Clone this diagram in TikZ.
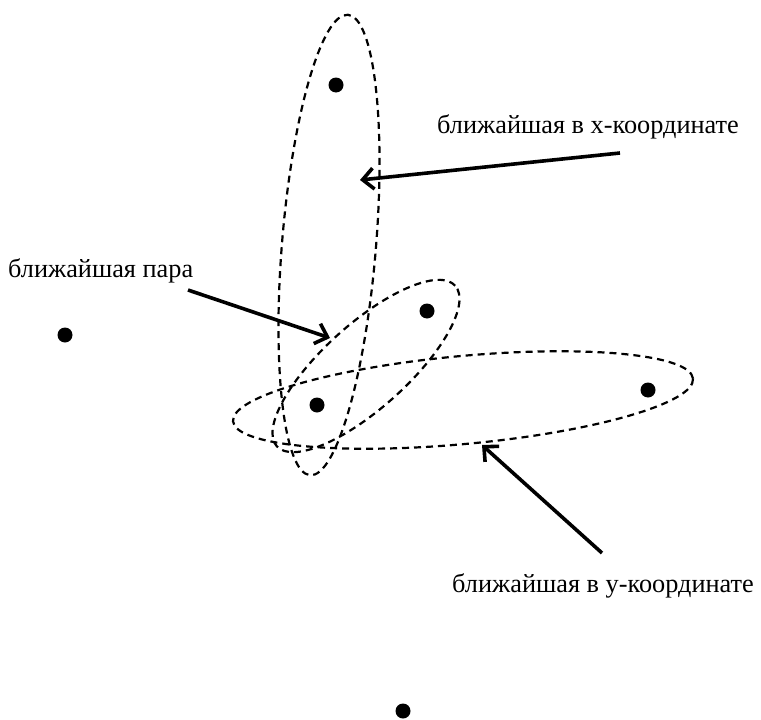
\documentclass[tikz,border=0pt]{standalone}
\usepackage{fontspec}
\setmainfont{Liberation Serif}
\usetikzlibrary{arrows.meta,shapes.geometric}

\begin{document}
\begin{tikzpicture}[x=1pt, y=1pt, >={Straight Barb[length=11pt,width=21pt]},
  pt/.style={circle, inner sep=0pt, minimum size=15pt, fill=black},
  oval/.style={ellipse, draw, dash pattern=on 7pt off 5pt, line width=2.2pt, inner sep=0pt},
  lbl/.style={anchor=base west, inner sep=0pt, font=\fontsize{26.3}{30}\selectfont},
  ptr/.style={->, line width=3.6pt}]
  \useasboundingbox (0,0) rectangle (761,-720);

  % Points

  \node[pt] (p1) at (336,-85) {};
  \node[pt] (p2) at (65,-335) {};
  \node[pt] (p3) at (427,-311) {};
  \node[pt] (p4) at (317,-405) {};
  \node[pt] (p5) at (648,-390) {};
  \node[pt] (p6) at (403,-711) {};

  % Groups

  \node[oval, minimum width=94, minimum height=462, rotate=-4.7] (ox) at (329,-245) {};
  \node[oval, minimum width=240, minimum height=84, rotate=42] (op) at (366,-366) {};
  \node[oval, minimum width=462, minimum height=88, rotate=5.3] (oy) at (463,-400) {};

  % Labels

  \node[lbl] (lx) at (437,-133) {ближайшая в x-координате};
  \node[lbl] (lp) at (8,-277) {ближайшая пара};
  \node[lbl] (ly) at (452,-592) {ближайшая в у-координате};

  % Pointers

  \coordinate (sx) at (620,-153);
  \coordinate (tx) at (360,-180);
  \coordinate (sp) at (188,-290);
  \coordinate (tp) at (330,-338);
  \coordinate (sy) at (602,-553);
  \coordinate (ty) at (482,-445);

  \draw[ptr] (sx) -- (tx);
  \draw[ptr] (sp) -- (tp);
  \draw[ptr] (sy) -- (ty);

\end{tikzpicture}
\end{document}
